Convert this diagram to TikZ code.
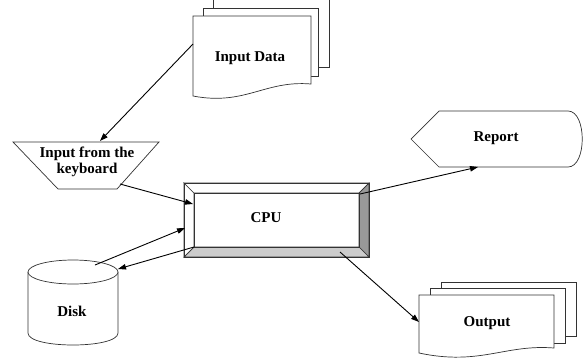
\documentclass[tikz,border=0pt]{standalone}
\usepackage{fontspec}
\setmainfont{Liberation Serif}
\usetikzlibrary{arrows.meta}
\begin{document}
\begin{tikzpicture}[x=1pt,y=-1pt,
  shp/.style={draw=black!80,line width=0.7pt,fill=white},
  lbl/.style={font=\fontsize{15}{17}\selectfont\bfseries,text=black,align=center,inner sep=0pt},
  conn/.style={draw=black,line width=0.9pt,-{Triangle[length=8pt,width=5.5pt]}}]
\useasboundingbox (0,0) rectangle (586,362);
\clip (0,0) rectangle (586,362);
\fill[white] (0,0) rectangle (586,362);

% Input Data (multi-document)
\draw[shp] (213,-3) rectangle (329,67);
\draw[shp] (203,8) rectangle (318,76);
\draw[shp] (193,16) -- (311,16) -- (311,84) .. controls (265,80) and (245,106) .. (193,96) -- cycle;
\node[lbl] (indata) at (250,58) {Input Data};
\coordinate (indataL) at (193,44);

% Keyboard trapezium
\draw[shp] (13,142) -- (159,142) -- (117,189) -- (58,189) -- cycle;
\node[lbl] (kbd) at (87,162) {Input from the\\[-1pt]keyboard};
\coordinate (kbdT) at (100,141);
\coordinate (kbdR) at (120,184);

% CPU bevelled box
\fill[white,draw=black!80,line width=0.7pt] (184,183) -- (194,193) -- (194,247) -- (184,257) -- cycle;
\fill[white,draw=black!80,line width=0.7pt] (184,183) -- (369,183) -- (359,193) -- (194,193) -- cycle;
\fill[black!40,draw=black!80,line width=0.7pt] (369,183) -- (369,257) -- (359,247) -- (359,193) -- cycle;
\fill[black!20,draw=black!80,line width=0.7pt] (184,257) -- (194,247) -- (359,247) -- (369,257) -- cycle;
\draw[black!80,line width=0.7pt] (194,193) rectangle (359,247);
\draw[black!80,line width=0.7pt] (184,183) rectangle (369,257);
\node[lbl] (cpu) at (266,218) {CPU};
\coordinate (cpuA) at (193,204);
\coordinate (cpuB) at (185,228);
\coordinate (cpuC) at (194,247);
\coordinate (cpuD) at (360,194);
\coordinate (cpuE) at (340,252);

% Report display shape
\draw[shp] (411,139) -- (439,111) -- (568,111) .. controls (587,111) and (587,167) .. (568,167) -- (439,167) -- cycle;
\node[lbl] (report) at (496,138) {Report};
\coordinate (reportB) at (478,167);

% Disk cylinder
\draw[shp] (28,272) -- (28,333) .. controls (28,349) and (118,349) .. (118,333) -- (118,272);
\draw[shp] (73,272) ellipse [x radius=45, y radius=12];
\node[lbl] (disk) at (72,311) {Disk};
\coordinate (diskT) at (95,265);
\coordinate (diskR) at (118,269);

% Output multi-document
\draw[shp] (441,282) rectangle (576,336);
\draw[shp] (430,288) rectangle (565,343);
\draw[shp] (419,295) -- (554,295) -- (554,348) .. controls (505,344) and (480,366) .. (419,353) -- cycle;
\node[lbl] (output) at (487,323) {Output};
\coordinate (outputL) at (419,322);

% Connectors
\draw[conn] (indataL) -- (kbdT);
\draw[conn] (kbdR) -- (cpuA);
\draw[conn] (diskT) -- (cpuB);
\draw[conn] (cpuC) -- (diskR);
\draw[conn] (cpuD) -- (reportB);
\draw[conn] (cpuE) -- (outputL);
\end{tikzpicture}
\end{document}
